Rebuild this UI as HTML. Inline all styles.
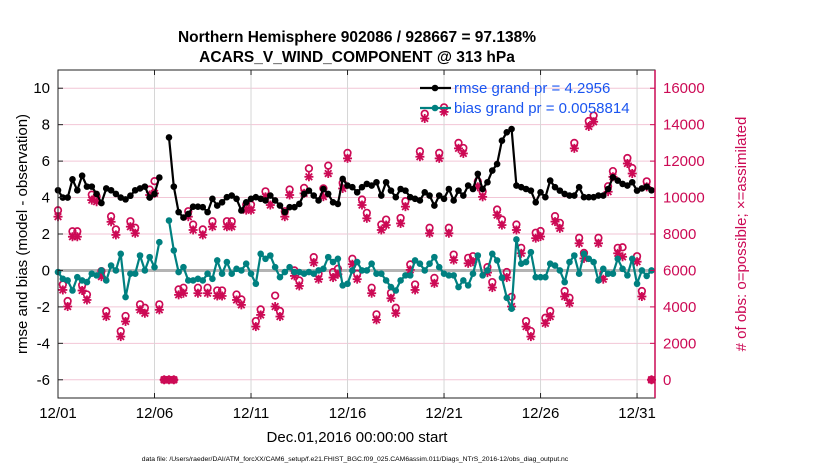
<!DOCTYPE html>
<html><head><meta charset="utf-8"><style>
body{margin:0;background:#fff;}
svg{display:block;font-family:"Liberation Sans",Arial,sans-serif;}
</style></head><body>
<svg id="chart" width="830" height="470" viewBox="0 0 830 470" xmlns="http://www.w3.org/2000/svg">
<rect width="830" height="470" fill="#fff"/>
<text x="357" y="42" text-anchor="middle" font-size="15.5" font-weight="bold">Northern Hemisphere 902086 / 928667 = 97.138%</text>
<text x="357" y="62" text-anchor="middle" font-size="15.5" font-weight="bold">ACARS_V_WIND_COMPONENT @ 313 hPa</text>
<g id="grid"></g>
<g id="marks"></g>
<g id="axes"></g>
<text x="357" y="442" text-anchor="middle" font-size="15">Dec.01,2016 00:00:00 start</text>
<text transform="translate(27,234) rotate(-90)" text-anchor="middle" font-size="15">rmse and bias (model - observation)</text>
<text transform="translate(746,234) rotate(-90)" text-anchor="middle" font-size="15" fill="#cc0a55">#&#160;of obs: o=possible; ×=assimilated</text>
<text x="355" y="461" text-anchor="middle" font-size="6.8">data file: /Users/raeder/DAI/ATM_forcXX/CAM6_setup/f.e21.FHIST_BGC.f09_025.CAM6assim.011/Diags_NTrS_2016-12/obs_diag_output.nc</text>
<g id="legend"></g>
</svg>
<script>
const stepDays = 0.25;
const xTickDays = [0,5,10,15,20,25,30];
const xTickLabels = ["12/01","12/06","12/11","12/16","12/21","12/26","12/31"];
const leftTicks = [-6,-4,-2,0,2,4,6,8,10];
const rightTicks = [0,2000,4000,6000,8000,10000,12000,14000,16000];
const rmse = [4.4,4.0,4.0,5.0,4.4,5.2,4.6,4.6,4.2,3.7,4.5,4.4,4.2,4.0,3.9,4.1,4.4,4.5,4.6,4.0,4.2,5.1,
null,7.3,4.6,3.2,2.9,3.1,3.5,3.5,
3.47,3.2,3.93,3.56,3.74,4.02,4.11,3.93,3.29,3.74,3.93,4.02,3.93,3.84,4.11,3.84,3.56,3.2,3.47,3.47,3.65,4.2,4.38,4.11,3.84,4.47,4.2,3.74,3.65,5.02,4.66,
4.57,4.29,4.57,4.75,4.66,4.84,4.11,4.84,4.38,4.02,4.47,4.38,4.02,3.93,3.84,4.29,4.11,3.56,4.11,3.93,4.47,3.84,4.38,4.11,4.66,4.47,5.3,4.47,4.84,5.48,5.84,
7.12,7.58,7.76,4.66,4.57,4.47,4.38,3.74,4.29,4.02,4.93,4.57,4.38,4.2,4.11,4.11,4.57,4.02,4.02,4.02,4.11,4.11,4.47,5.11,4.93,4.75,4.66,4.84,4.38,4.5,4.6,4.4];
const bias = [-0.09,-0.46,-0.55,-1.1,-0.37,-0.55,-0.64,-0.18,-0.27,0,-0.55,0.27,0,0.91,-1.46,-0.18,-0.18,0.82,0,0.73,0.18,1.55,
null,2.74,1.1,-0.09,0.18,-0.55,-0.55,-0.46,
-0.55,-0.18,-0.46,0.55,-0.18,0.46,-0.18,0.09,0,0.37,-0.18,-0.73,0.91,0.64,0.82,0.18,-0.37,-0.09,0.18,-0.09,-0.09,-0.18,-0.09,-0.18,0,0.09,0.73,0.46,0.64,-0.82,-0.73,
0,0.46,0,0,0.37,-0.18,-0.18,-0.55,-0.91,-1.1,-0.55,-0.27,-0.27,0.55,0.37,0,0.37,0.73,0.18,-0.18,-0.27,-0.27,-0.91,-0.55,-0.82,-0.18,0.82,-0.27,0,0.91,0.55,
-0.4,-1.5,-2.1,1.7,0.37,0.46,1.0,-0.37,-0.37,-0.37,0.37,0.27,0,-0.64,0.46,0.82,-0.18,0.91,0.64,0.46,-0.55,0.09,-0.18,-0.18,0.64,0.09,-0.27,0.64,-0.73,0,-0.3,0.0];
const assimilated = [8950,4930,4020,7850,7850,4900,4380,9860,9770,5660,3470,8670,7950,2370,3200,8400,8040,3840,3650,10140,10230,3840,
0,0,0,4660,4750,8950,8220,4750,
7950,4750,8400,4600,4600,8400,8400,4380,4110,9310,9310,2920,3560,10040,9590,4020,3470,8950,10140,5700,5150,10230,11140,6430,5520,10050,11320,5610,5790,10500,12150,6340,5520,
9590,8860,4750,3290,8220,8490,4470,3650,8580,9500,6030,4930,12240,14340,8040,5290,12150,14700,8040,6570,12700,12420,6390,6480,10590,10040,5880,5060,9040,8490,
5610,4020,8220,6940,2920,2370,7770,7860,3100,3470,8680,8310,4570,4200,12700,7490,6660,13900,14160,7490,5520,10320,11140,6940,6750,11870,11320,6480,4570,10590,0];
const possible = [9300,5230,4320,8150,8150,5200,4680,10160,10070,5960,3770,8970,8250,2670,3500,8700,8340,4140,3950,10440,10900,4140,
0,0,0,4960,5050,9250,8520,5050,
8250,5050,8700,4900,4900,8700,8700,4680,4410,9610,9610,3220,3860,10340,9890,4620,3770,9250,10440,6000,5450,10530,11600,6730,5820,10500,11750,5910,6090,10800,12450,6640,5820,
9890,9160,5050,3590,8520,8790,4770,3950,8880,9800,6330,5230,12540,14600,8340,5590,12450,14950,8340,6870,13000,12720,6690,6780,10890,10340,6180,5360,9340,8790,
5910,4550,8520,7240,3220,2670,8070,8160,3400,3770,8980,8610,4870,4500,13000,7790,6960,14200,14500,7790,5820,10620,11450,7240,7270,12170,11620,6780,4870,10890,0];

const X0=58,X1=655,Y0=70,Y1=398;
const xMax=30.93;
const xs=d=>X0+(d/xMax)*(X1-X0);
const yl=v=>Y1-(v-(-7))/(18)*(Y1-Y0);
const yr=n=>Y1-(n-(-1000))/(18000)*(Y1-Y0);
const NS="http://www.w3.org/2000/svg";
function mk(tag,attrs,parent){const e=document.createElementNS(NS,tag);for(const k in attrs)e.setAttribute(k,attrs[k]);parent.appendChild(e);return e;}
const grid=document.getElementById('grid'),marks=document.getElementById('marks'),axes=document.getElementById('axes'),legend=document.getElementById('legend');
const CR="#cc0a55",TEAL="#008080";

leftTicks.forEach(v=>{
  const g=mk('line',{x1:X0,x2:X1,y1:yl(v),y2:yl(v),stroke:'#f2c6d6','stroke-width':1},grid);
  
  
  const t=mk('text',{x:X0-8,y:yl(v)+5,'text-anchor':'end','font-size':15},axes);
  t.textContent=v;
  
  
  mk('line',{x1:X0,x2:X0+5,y1:yl(v),y2:yl(v),stroke:'#222'},axes);
});
rightTicks.forEach(n=>{
  const t=mk('text',{x:X1+8,y:yr(n)+5,'font-size':15,fill:CR},axes);
  t.textContent=n;
  
  
  mk('line',{x1:X1-5,x2:X1,y1:yr(n),y2:yr(n),stroke:CR},axes);
});
xTickDays.forEach((d,i)=>{
  const g=mk('line',{x1:xs(d),x2:xs(d),y1:Y0,y2:Y1,stroke:'#d6d6d6','stroke-width':1},grid);
  
  
  const t=mk('text',{x:xs(d),y:418,'text-anchor':'middle','font-size':15},axes);
  t.textContent=xTickLabels[i];
  
  
  mk('line',{x1:xs(d),x2:xs(d),y1:Y1,y2:Y1-5,stroke:'#222'},axes);
  mk('line',{x1:xs(d),x2:xs(d),y1:Y0,y2:Y0+5,stroke:'#222'},axes);
});
const zl=mk('line',{x1:X0,x2:X1,y1:yl(0),y2:yl(0),stroke:'#b4b4b4','stroke-width':3},grid);



function star(x,y,p){
  const g=mk('g',{stroke:CR,'stroke-width':1.8},p);
  mk('line',{x1:x-4.5,x2:x+4.5,y1:y,y2:y},g);mk('line',{x1:x,x2:x,y1:y-4.5,y2:y+4.5},g);
  mk('line',{x1:x-3.3,x2:x+3.3,y1:y-3.3,y2:y+3.3},g);mk('line',{x1:x-3.3,x2:x+3.3,y1:y+3.3,y2:y-3.3},g);
  return g;
}
possible.forEach((n,i)=>{
  const c=mk('circle',{cx:xs(i*stepDays),cy:yr(n),r:3.3,fill:'none',stroke:CR,'stroke-width':1.7},marks);
  
  
});
assimilated.forEach((n,i)=>{
  const s=star(xs(i*stepDays),yr(n),marks);
  
  
});
function series(arr,color,name){
  let d='',pen=false;
  arr.forEach((v,i)=>{ if(v===null){pen=false;return;} d+=(pen?'L':'M')+xs(i*stepDays).toFixed(1)+' '+yl(v).toFixed(1)+' '; pen=true;});
  const p=mk('path',{d:d,fill:'none',stroke:color,'stroke-width':2.2},marks);
  
  
  arr.forEach((v,i)=>{ if(v===null)return;
    const c=mk('circle',{cx:xs(i*stepDays),cy:yl(v),r:3.3,fill:color},marks);
    
    
  });
}
series(bias,TEAL,'bias');
series(rmse,'#000','rmse');

const fr=mk('rect',{x:X0,y:Y0,width:X1-X0,height:Y1-Y0,fill:'none',stroke:'#222','stroke-width':1},axes);


const ra=mk('line',{x1:X1,x2:X1,y1:Y0,y2:Y1,stroke:CR,'stroke-width':1.5},axes);



[['rmse grand pr = 4.2956','#000',88,'legend-entry-rmse'],['bias grand pr = 0.0058814',TEAL,108,'legend-entry-bias']].forEach(e=>{
  const g=mk('g',{},legend);
  
  
  mk('line',{x1:420,x2:451,y1:e[2],y2:e[2],stroke:e[1],'stroke-width':2.2},g);
  mk('circle',{cx:435,cy:e[2],r:3.3,fill:e[1]},g);
  const t=mk('text',{x:454,y:e[2]+5,'font-size':15,fill:'#1a55f0'},g);
  t.textContent=e[0];
});
</script>
</body></html>
